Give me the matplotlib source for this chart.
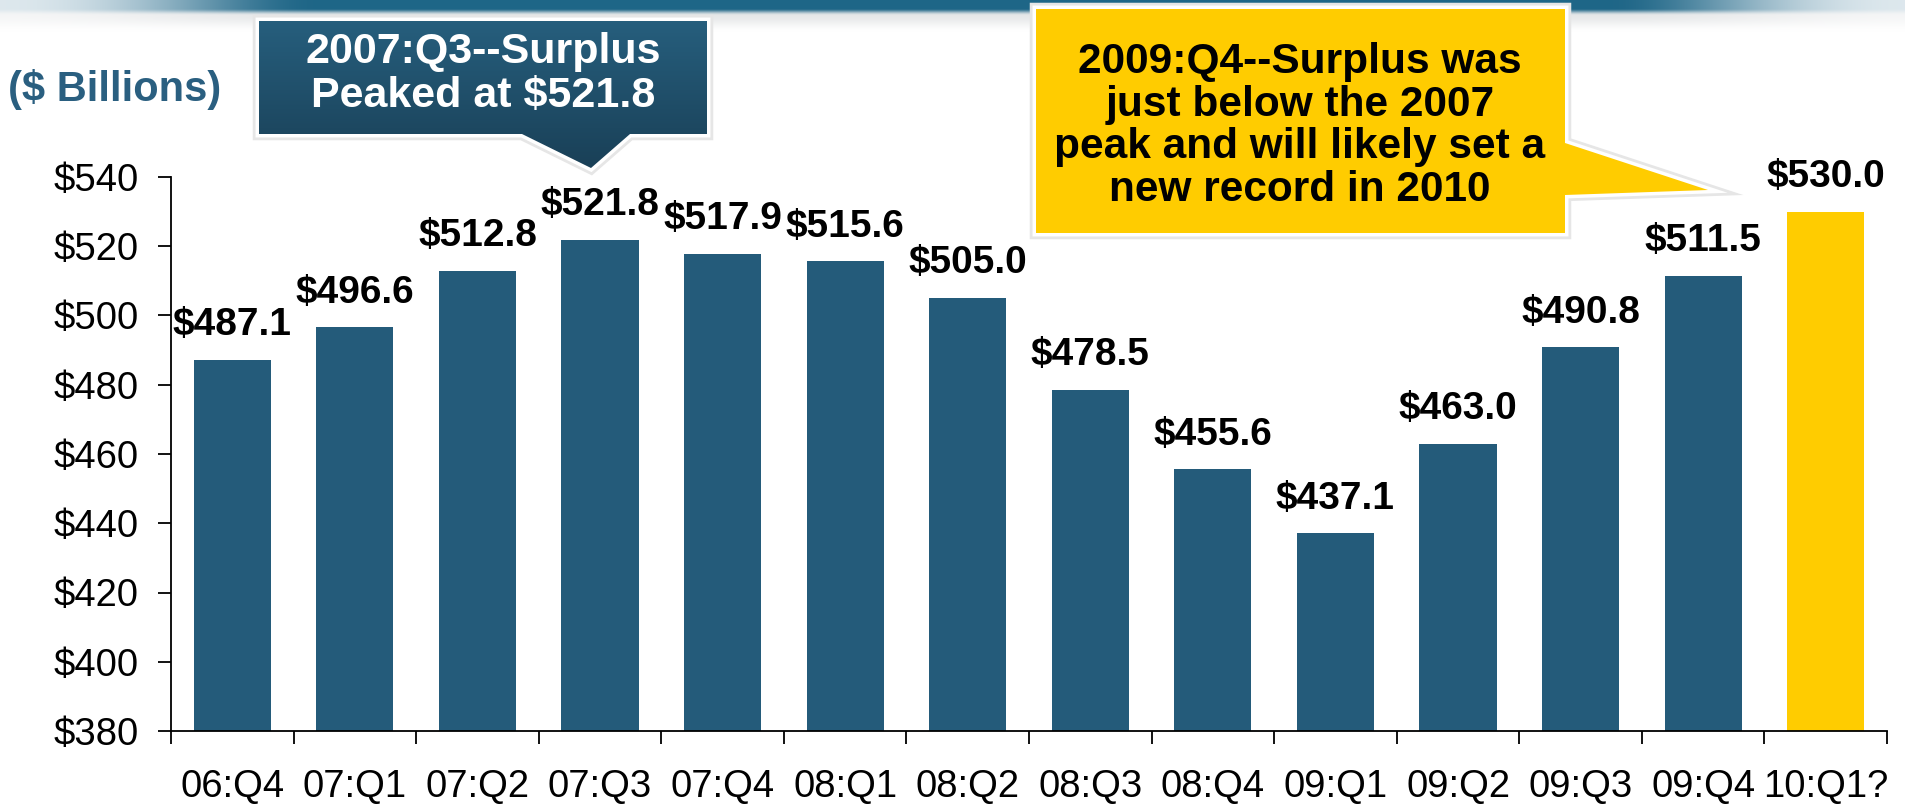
import numpy as np
import matplotlib
matplotlib.use("Agg")
import matplotlib.pyplot as plt
from matplotlib.patches import Polygon
from matplotlib.ticker import FixedLocator, NullFormatter

plt.rcParams["font.family"] = ["Liberation Sans", "DejaVu Sans"]
plt.rcParams["text.parse_math"] = False

# Quarterly surplus, $ billions (last quarter is a projection)
quarters = ["06:Q4", "07:Q1", "07:Q2", "07:Q3", "07:Q4", "08:Q1", "08:Q2",
            "08:Q3", "08:Q4", "09:Q1", "09:Q2", "09:Q3", "09:Q4", "10:Q1?"]
surplus = [487.1, 496.6, 512.8, 521.8, 517.9, 515.6, 505.0,
           478.5, 455.6, 437.1, 463.0, 490.8, 511.5, 530.0]
projected = [False] * 13 + [True]
y_ticks = [380, 400, 420, 440, 460, 480, 500, 520, 540]
y_tick_labels = ["$380", "$400", "$420", "$440", "$460", "$480", "$500", "$520", "$540"]
value_labels = ["$487.1", "$496.6", "$512.8", "$521.8", "$517.9", "$515.6", "$505.0",
                "$478.5", "$455.6", "$437.1", "$463.0", "$490.8", "$511.5", "$530.0"]
peak_note = "2007:Q3--Surplus\nPeaked at $521.8"
record_note = "2009:Q4--Surplus was\njust below the 2007\npeak and will likely set a\nnew record in 2010"

BLUE = "#245b7a"
GOLD = "#ffcc00"

W, H = 1906, 806
fig = plt.figure(figsize=(W / 100, H / 100), dpi=100)
fig.patch.set_facecolor("white")

# --- decorative header band -------------------------------------------------
bh = 32
xs = np.arange(W)
ys = np.arange(bh)[:, None]
def smooth(t):
    t = np.clip(t, 0, 1)
    return t * t * (3 - 2 * t)
hw = smooth(xs / 320.0) * smooth((W - xs) / 300.0)
core = smooth((15 - ys) / 7.0)
haze = smooth((bh - ys) / 18.0) * 0.22
teal = np.array([0.12, 0.40, 0.53])
light = np.array([0.62, 0.74, 0.80])
mixc = light[None, None, :] * (1 - hw[None, :, None]) + teal[None, None, :] * hw[None, :, None]
a = (core * (0.35 + 0.65 * hw[None, :]))[:, :, None]
img = np.ones((bh, W, 3)) * (1 - a) + mixc * a
g = (haze * (1 - core))[:, :, None] * (0.4 + 0.6 * hw[None, :, None])
img = img * (1 - g) + np.array([0.55, 0.58, 0.60]) * g
hax = fig.add_axes([0, 1 - bh / H, 1, bh / H])
hax.imshow(img, aspect="auto", interpolation="bilinear")
hax.axis("off")

# --- main bar chart ----------------------------------------------------------
ax = fig.add_axes([171 / W, 75 / H, 1716 / W, 554 / H])
x = np.arange(len(quarters))
colors = [GOLD if p else BLUE for p in projected]
ax.bar(x, np.array(surplus) - 380, bottom=380, width=0.63, color=colors, zorder=2)

ax.set_xlim(-0.5, len(quarters) - 0.5)
ax.set_ylim(380, 540)
for s in ("top", "right"):
    ax.spines[s].set_visible(False)
for s in ("left", "bottom"):
    ax.spines[s].set_linewidth(1.3)
    ax.spines[s].set_color("black")

ax.yaxis.set_major_locator(FixedLocator(y_ticks))
ax.set_yticklabels(y_tick_labels)
ax.tick_params(axis="y", length=9.5, width=1.3, pad=14, labelsize=27.5)

ax.xaxis.set_major_locator(FixedLocator(np.arange(len(quarters) + 1) - 0.5))
ax.xaxis.set_major_formatter(NullFormatter())
ax.xaxis.set_minor_locator(FixedLocator(x))
ax.set_xticklabels(quarters, minor=True)
ax.tick_params(axis="x", which="major", length=9.5, width=1.3)
ax.tick_params(axis="x", which="minor", length=0, pad=27, labelsize=27.5)

for xi, v, lab in zip(x, surplus, value_labels):
    ax.annotate(lab, (xi, v), xytext=(0, 25), textcoords="offset points",
                ha="center", va="center", fontsize=28, fontweight="bold",
                color="black", zorder=3)

# --- overlay in figure pixels for the callouts ------------------------------
ov = fig.add_axes([0, 0, 1, 1], zorder=5)
ov.set_xlim(0, W)
ov.set_ylim(H, 0)
ov.axis("off")

ov.text(115, 90, "($ Billions)", ha="center", va="center", fontsize=30,
        fontweight="bold", color="#2a5f80")

# peak callout (gradient blue box with downward pointer)
peak_pts = [(259, 21), (707, 21), (707, 134), (630, 134), (591, 168),
            (522, 134), (259, 134)]
ov.add_patch(Polygon(peak_pts, closed=True, facecolor="none",
                     edgecolor="#e6e6e6", linewidth=9, joinstyle="miter", zorder=1))
ov.add_patch(Polygon(peak_pts, closed=True, facecolor="none",
                     edgecolor="white", linewidth=5, joinstyle="miter", zorder=1.5))
clip = Polygon(peak_pts, closed=True, facecolor="none", edgecolor="none")
ov.add_patch(clip)
top_c = np.array([0.15, 0.37, 0.49])
bot_c = np.array([0.10, 0.25, 0.34])
t = np.linspace(0, 1, 256)[:, None, None]
grad = top_c * (1 - t) + bot_c * t
gi = ov.imshow(grad, extent=(259, 707, 168, 21), aspect="auto",
               interpolation="bilinear", zorder=2)
gi.set_clip_path(clip)
ov.set_xlim(0, W)
ov.set_ylim(H, 0)
ov.text(483, 74, peak_note, ha="center", va="center", fontsize=31,
        fontweight="bold", color="white", linespacing=1.12, zorder=3)

# record callout (gold box with pointer to the projected bar)
rec_pts = [(1036, 9), (1565, 9), (1565, 143), (1708, 190), (1565, 195),
           (1565, 233), (1036, 233)]
ov.add_patch(Polygon(rec_pts, closed=True, facecolor="none",
                     edgecolor="#e6e6e6", linewidth=9, joinstyle="miter", zorder=1))
ov.add_patch(Polygon(rec_pts, closed=True, facecolor=GOLD,
                     edgecolor="white", linewidth=5, joinstyle="miter", zorder=1.5))
ov.add_patch(Polygon(rec_pts, closed=True, facecolor=GOLD,
                     edgecolor="none", zorder=2))
ov.text(1300, 126, record_note, ha="center", va="center", fontsize=30.5,
        fontweight="bold", color="black", linespacing=1.08, zorder=3)

fig.savefig("out.png", dpi=100, facecolor="white")
